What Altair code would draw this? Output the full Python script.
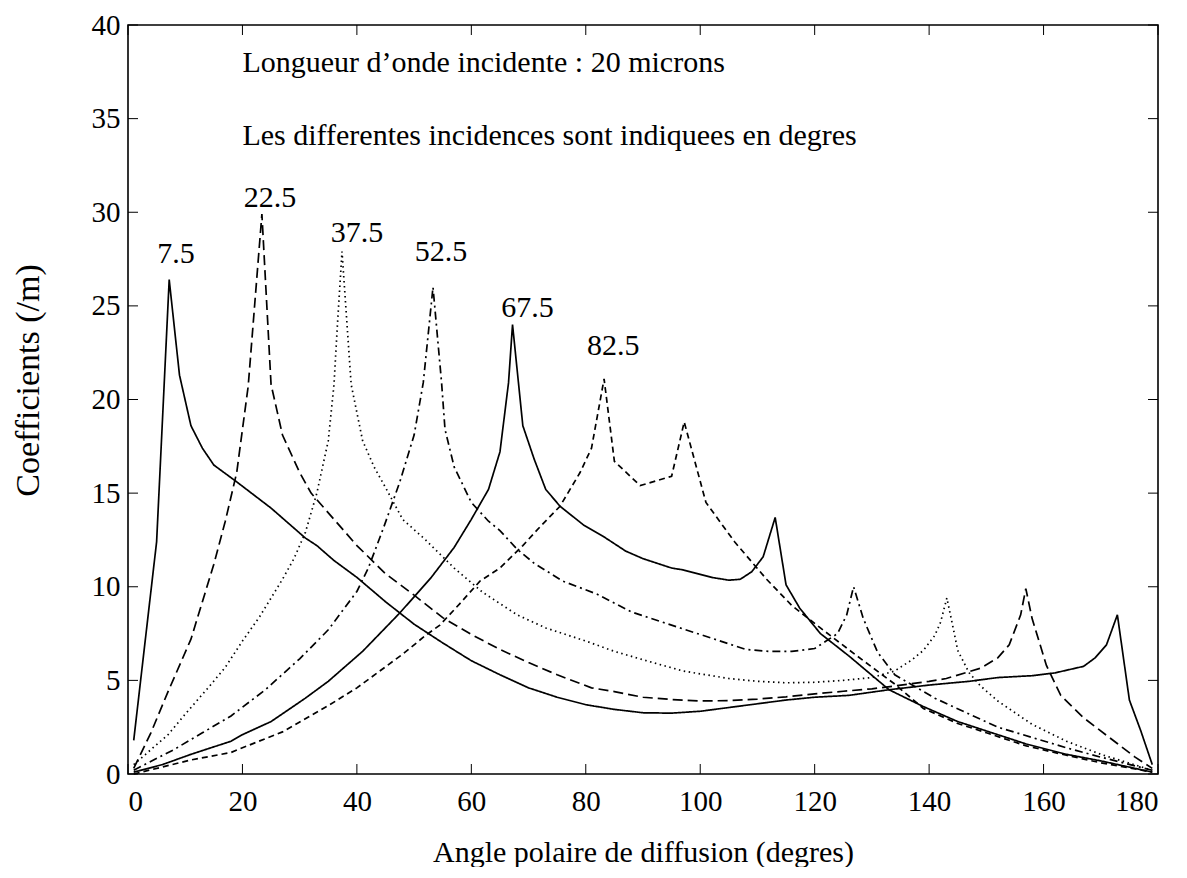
import altair as alt
import pandas as pd

# ---- data ----
s75_x = [1, 5, 7.2, 9, 11, 13, 15, 19, 22, 25, 28, 31, 33, 36, 40, 45, 50, 55, 60, 65, 70, 75, 80, 85, 90, 95, 100, 105, 110, 115, 120, 126, 133, 140, 147, 152, 158, 162, 167, 169, 171, 172.9, 175, 177, 179]
s75_y = [1.8, 12.4, 26.4, 21.3, 18.6, 17.4, 16.5, 15.6, 14.9, 14.2, 13.4, 12.6, 12.2, 11.4, 10.5, 9.2, 8.0, 7.0, 6.05, 5.3, 4.6, 4.1, 3.7, 3.45, 3.27, 3.25, 3.35, 3.55, 3.75, 3.95, 4.1, 4.2, 4.5, 4.75, 4.95, 5.15, 5.25, 5.4, 5.75, 6.2, 6.9, 8.5, 3.95, 2.3, 0.5]

s225_x = [1, 4, 7, 11, 15, 17, 19, 21, 23.4, 25, 27, 30, 32, 36, 40, 45, 50, 55, 60, 65, 70, 75, 81, 85, 90, 95, 100, 105, 110, 115, 120, 125, 130, 134, 140, 143, 149, 152, 154, 156, 156.9, 158, 160.5, 163, 167, 173, 176, 179]
s225_y = [0.3, 2.2, 4.4, 7.2, 11.2, 13.5, 16.1, 20.7, 29.9, 20.8, 18.1, 16.1, 15.0, 13.6, 12.2, 10.7, 9.55, 8.35, 7.45, 6.65, 5.95, 5.3, 4.6, 4.4, 4.1, 3.98, 3.9, 3.92, 4.0, 4.12, 4.28, 4.42, 4.55, 4.7, 4.95, 5.1, 5.65, 6.2, 6.9, 8.5, 9.9, 8.3, 5.8, 4.2, 3.0, 1.6, 0.9, 0.3]

s375_x = [1, 4, 7, 10, 14, 17, 20, 23, 25, 27, 29, 31, 33, 35, 36, 36.6, 37.4, 39, 41, 43, 45, 48, 52, 57, 62, 68, 73, 80, 85, 90, 97, 100, 105, 110, 115, 120, 125, 130, 134, 137, 139, 141, 142, 143.1, 144, 145, 147, 149, 152, 158, 164, 170, 179]
s375_y = [0.5, 1.3, 2.1, 3.2, 4.6, 5.7, 7.1, 8.4, 9.4, 10.4, 11.5, 12.9, 15.0, 17.8, 20.8, 24.0, 27.9, 20.8, 17.8, 16.4, 15.3, 13.6, 12.5, 11.0, 9.7, 8.5, 7.8, 7.1, 6.55, 6.1, 5.5, 5.35, 5.1, 4.95, 4.87, 4.9, 5.0, 5.15, 5.5, 6.1, 6.6, 7.4, 8.1, 9.4, 8.1, 6.6, 5.4, 4.7, 3.9, 2.65, 1.75, 1.05, 0.2]

s525_x = [1, 8, 13, 18, 24, 30, 35, 40, 42, 44.6, 47.5, 50, 51.6, 53.3, 54.8, 55.4, 57, 60, 63, 65, 68, 71, 76, 82, 88, 94, 100, 105, 108, 112, 116, 120, 122, 124, 125.6, 126.8, 128.5, 131, 134, 141, 147, 152, 158, 164, 170, 179]
s525_y = [0.2, 1.3, 2.2, 3.1, 4.5, 6.15, 7.7, 9.75, 11.0, 13.1, 15.6, 18.1, 20.9, 26.0, 20.9, 18.4, 16.4, 14.5, 13.5, 13.0, 12.0, 11.25, 10.3, 9.6, 8.65, 8.05, 7.45, 6.95, 6.65, 6.55, 6.55, 6.7, 7.1, 7.5, 8.5, 10.0, 8.3, 6.5, 5.3, 4.05, 3.2, 2.5, 1.95, 1.4, 0.9, 0.2]

s675_x = [1, 6, 11, 18, 20, 25, 31, 35, 41, 47.5, 53, 57, 60, 63, 65, 66.5, 67.2, 69, 71, 73, 75.5, 79.6, 83, 87, 90, 95, 97, 102, 105, 107, 109, 111, 113.1, 115, 117.4, 121, 126, 133, 139, 145, 150, 157, 164, 170, 179]
s675_y = [0.1, 0.5, 1.05, 1.75, 2.1, 2.8, 4.05, 4.95, 6.55, 8.6, 10.5, 12.1, 13.6, 15.2, 17.2, 20.9, 24.0, 18.6, 16.8, 15.2, 14.3, 13.3, 12.7, 11.9, 11.5, 11.0, 10.9, 10.5, 10.35, 10.4, 10.8, 11.6, 13.7, 10.1, 8.85, 7.5, 6.3, 4.5, 3.6, 2.8, 2.3, 1.6, 1.05, 0.7, 0.1]

s825_x = [1, 11, 18, 20, 27, 35, 40, 44, 48, 52, 54.5, 58, 61.5, 65, 69, 72, 75.5, 79, 81, 83.2, 85, 89.5, 95, 97.2, 101, 106, 111.6, 116, 121, 127, 134, 139, 145, 150, 157, 164, 170, 179]
s825_y = [0.0, 0.75, 1.15, 1.4, 2.25, 3.65, 4.6, 5.5, 6.4, 7.4, 7.95, 9.1, 10.3, 11.0, 12.2, 13.2, 14.3, 16.1, 17.4, 21.1, 16.7, 15.4, 15.9, 18.8, 14.5, 12.4, 10.4, 9.0, 7.8, 6.4, 4.8, 3.5, 2.7, 2.2, 1.5, 1.0, 0.6, 0.1]

series_names = ["7.5", "22.5", "37.5", "52.5", "67.5", "82.5"]
series_x = [s75_x, s225_x, s375_x, s525_x, s675_x, s825_x]
series_y = [s75_y, s225_y, s375_y, s525_y, s675_y, s825_y]
series_dash = [[1, 0], [10, 5], [1.5, 3.5], [8, 4, 2, 4], [1, 0], [6, 4]]

label_text = ["7.5", "22.5", "37.5", "52.5", "67.5", "82.5"]
label_x = [8.4, 24.8, 40.0, 54.7, 69.8, 84.8]
label_y = [27.3, 30.3, 28.4, 27.4, 24.4, 22.4]

note_text = ["Longueur d\u2019onde incidente : 20 microns",
             "Les differentes incidences sont indiquees en degres"]
note_x = [20, 20]
note_y = [37.5, 33.6]

x_ticks = [0, 20, 40, 60, 80, 100, 120, 140, 160, 180]
y_ticks = [0, 5, 10, 15, 20, 25, 30, 35, 40]

W, H = 1030, 749
FONT = "Liberation Serif"
FS = 30
LFS = 29
YTFS = 34
TICK = 10

rows = []
for name, xs, ys in zip(series_names, series_x, series_y):
    for i, (a, b) in enumerate(zip(xs, ys)):
        rows.append({"series": name, "x": a, "y": b, "i": i})
df = pd.DataFrame(rows)

xscale = alt.Scale(domain=[0, 180], nice=False, zero=False)
yscale = alt.Scale(domain=[0, 40], nice=False, zero=False)
XT = "Angle polaire de diffusion (degres)"
YT = "Coefficients (/m)"

lines = alt.Chart(df).mark_line(color="black", strokeWidth=1.7).encode(
    x=alt.X("x:Q", scale=xscale, title=XT,
            axis=alt.Axis(values=x_ticks, ticks=False, domain=False, grid=False,
                          labelPadding=13, titleFontSize=FS,
                          titleY=87, titleBaseline="alphabetic")),
    y=alt.Y("y:Q", scale=yscale, title=YT,
            axis=alt.Axis(values=y_ticks, ticks=False, domain=False, grid=False,
                          labelPadding=8, titleFontSize=YTFS,
                          titleX=-100, titleY=355, titleBaseline="middle")),
    strokeDash=alt.StrokeDash("series:N", scale=alt.Scale(domain=series_names, range=series_dash), legend=None),
    detail="series:N",
    order="i:Q",
)

xt = pd.DataFrame({"x": x_ticks})
yt = pd.DataFrame({"y": y_ticks})

tb = alt.Chart(xt).mark_rule(color="black", strokeWidth=1).encode(
    x=alt.X("x:Q", scale=xscale, title=XT), y=alt.value(H), y2=alt.value(H - TICK))
tt = alt.Chart(xt).mark_rule(color="black", strokeWidth=1).encode(
    x=alt.X("x:Q", scale=xscale, title=XT), y=alt.value(0), y2=alt.value(TICK))
tl = alt.Chart(yt).mark_rule(color="black", strokeWidth=1).encode(
    y=alt.Y("y:Q", scale=yscale, title=YT), x=alt.value(0), x2=alt.value(TICK))
tr = alt.Chart(yt).mark_rule(color="black", strokeWidth=1).encode(
    y=alt.Y("y:Q", scale=yscale, title=YT), x=alt.value(W), x2=alt.value(W - TICK))

labels = alt.Chart(pd.DataFrame({"t": label_text, "x": label_x, "y": label_y})).mark_text(
    font=FONT, fontSize=FS, color="black", align="center", baseline="alphabetic"
).encode(x=alt.X("x:Q", scale=xscale, title=XT), y=alt.Y("y:Q", scale=yscale, title=YT), text="t:N")

notes = alt.Chart(pd.DataFrame({"t": note_text, "x": note_x, "y": note_y})).mark_text(
    font=FONT, fontSize=FS, color="black", align="left", baseline="alphabetic"
).encode(x=alt.X("x:Q", scale=xscale, title=XT), y=alt.Y("y:Q", scale=yscale, title=YT), text="t:N")

chart = alt.layer(lines, tb, tt, tl, tr, labels, notes).properties(
    width=W, height=H, padding={"left": 3, "top": 3, "right": 5, "bottom": 0}
).configure_view(stroke="black", strokeWidth=1.6).configure_axis(
    labelFont=FONT, labelFontSize=LFS, labelColor="black",
    titleFont=FONT, titleColor="black", titleFontWeight="normal"
)

chart.save("out.html", embed_options={"renderer": "svg", "actions": False})
